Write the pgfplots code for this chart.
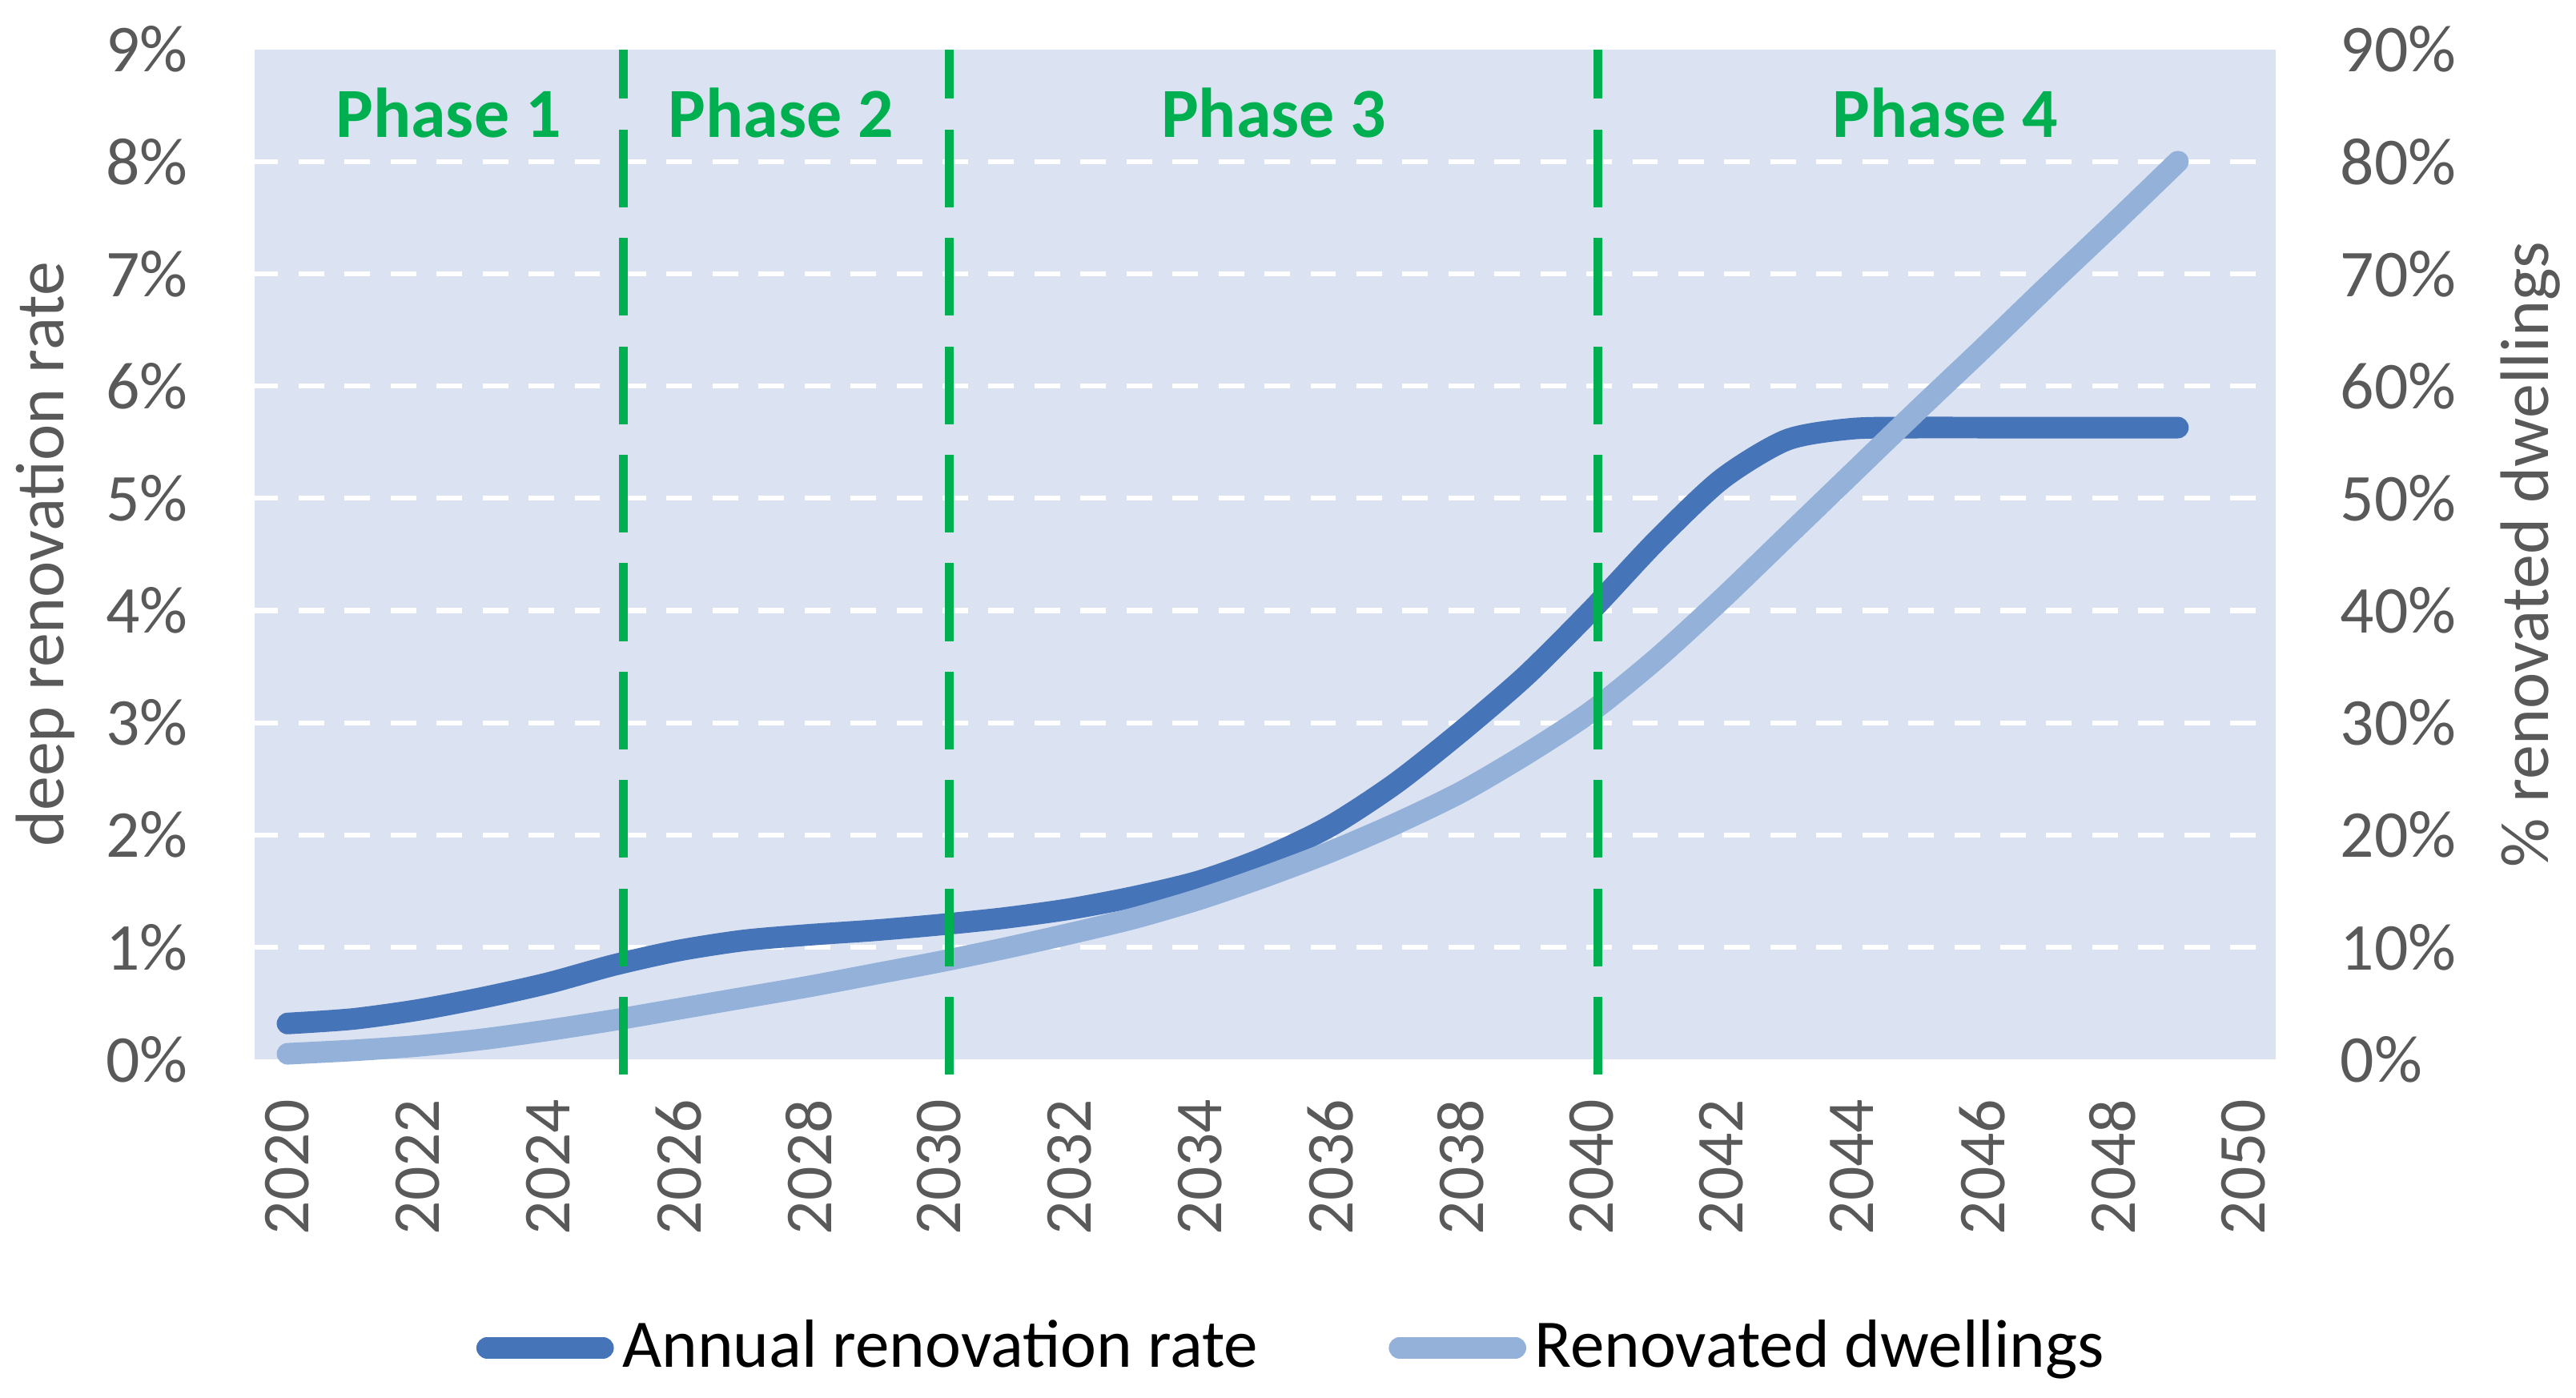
\documentclass[border=0pt]{standalone}
\usepackage{pgfplots}
\usepackage{pgfplotstable}
\pgfplotsset{compat=1.18}
\usepackage{fontspec}
\setmainfont{Carlito}
\definecolor{bgcol}{RGB}{219,227,242}
\definecolor{darkblue}{RGB}{70,116,184}
\definecolor{lightblue}{RGB}{148,178,217}
\definecolor{phasegreen}{RGB}{0,176,80}
\definecolor{ticktext}{RGB}{89,89,89}

\pgfplotstableread{
year rate
2020 0.32
2021 0.36
2022 0.44
2023 0.55
2024 0.68
2025 0.84
2026 0.97
2027 1.06
2028 1.11
2029 1.15
2030 1.20
2031 1.26
2032 1.34
2033 1.45
2034 1.59
2035 1.80
2036 2.08
2037 2.46
2038 2.92
2039 3.42
2040 4.00
2041 4.62
2042 5.17
2043 5.52
2044 5.62
2045 5.63
2046 5.63
2047 5.63
2048 5.63
2049 5.63
}\ratetable

\pgfplotstableread{
year dw
2020 0.5
2021 0.8
2022 1.2
2023 1.8
2024 2.6
2025 3.5
2026 4.5
2027 5.5
2028 6.5
2029 7.6
2030 8.7
2031 9.9
2032 11.2
2033 12.6
2034 14.3
2035 16.3
2036 18.5
2037 21.0
2038 23.8
2039 27.2
2040 31.0
2041 35.7
2042 41.0
2043 46.6
2044 52.2
2045 57.8
2046 63.3
2047 68.9
2048 74.4
2049 80.0
}\dwtable

\begin{document}
\begin{tikzpicture}
\pgfplotsset{
  common/.style={
    scale only axis, width=355.9pt, height=177.9pt,
    at={(0,0)}, anchor=south west,
    xmin=2019.5, xmax=2050.5,
    /pgf/number format/assume math mode=true,
    major tick length=0pt, minor tick length=0pt,
    tick style={draw=none},
    axis line style={draw=none},
    ticklabel style={font=\fontsize{11.8}{14}\selectfont, text=ticktext},
  }
}
\begin{axis}[common,
  axis background/.style={fill=bgcol},
  ymin=0, ymax=9, ytick={0,1,...,9},
  yticklabel={\pgfmathprintnumber{\tick}\%},
  yticklabel style={inner sep=0pt},
  yticklabel shift=11.6pt,
  extra y ticks={1,2,...,8},
  extra y tick labels={},
  extra y tick style={grid=major, major grid style={white, line width=0.85pt, dash pattern=on 4.5pt off 3.6pt, dash phase=0.4pt}},
  xtick={2020,2022,...,2050},
  xticklabel style={rotate=90, anchor=east, inner sep=0pt, /pgf/number format/1000 sep={}},
  xticklabel shift=6.8pt,
  ylabel={deep renovation rate},
  every axis y label/.style={at={(axis description cs:-0.1037,0.5)}, rotate=90, anchor=center, font=\fontsize{12.1}{14}\selectfont, text=ticktext},
]
\addplot[darkblue, line width=3.8pt, line cap=round, smooth, tension=0.45] table[x=year, y=rate] {\ratetable};
\end{axis}

\begin{axis}[common,
  clip=false,
  hide x axis,
  axis y line*=right,
  ymin=0, ymax=90, ytick={0,10,...,90},
  yticklabel={\pgfmathprintnumber{\tick}\%},
  yticklabel style={inner sep=0pt},
  yticklabel shift=11.2pt,
  ylabel={\% renovated dwellings},
  every axis y label/.style={at={(axis description cs:1.1262,0.5)}, rotate=90, anchor=center, font=\fontsize{12.1}{14}\selectfont, text=ticktext},
  legend style={at={(axis description cs:0.1096,-0.2856)}, anchor=west, draw=none, fill=none,
    inner sep=0pt, outer sep=0pt, legend columns=2,
    font=\fontsize{12}{14}\selectfont, text=black,
    nodes={inner sep=1.5pt},
    /tikz/every even column/.append style={column sep=21.5pt}},
  legend cell align=left,
  legend image code/.code={\draw[#1, line cap=round] (1.9pt,0pt) -- (22.3pt,0pt);},
]
\addlegendimage{darkblue, line width=3.8pt}
\addlegendentry{Annual renovation rate}
\addplot[lightblue, line width=3.8pt, line cap=round, smooth, tension=0.45] table[x=year, y=dw] {\dwtable};
\addlegendentry{Renovated dwellings}
\addplot[forget plot, phasegreen, line width=1.6pt, dash pattern=on 13.7pt off 5.4pt, dash phase=5pt] coordinates {(2025.15,90) (2025.15,-2)};
\addplot[forget plot, phasegreen, line width=1.6pt, dash pattern=on 13.7pt off 5.4pt, dash phase=5pt] coordinates {(2030.15,90) (2030.15,-2)};
\addplot[forget plot, phasegreen, line width=1.6pt, dash pattern=on 13.7pt off 5.4pt, dash phase=5pt] coordinates {(2040.1,90) (2040.1,-2)};
\node[anchor=base, text=phasegreen, font=\fontsize{12.4}{14}\selectfont\bfseries] at (axis cs:2022.47,82.2) {Phase 1};
\node[anchor=base, text=phasegreen, font=\fontsize{12.4}{14}\selectfont\bfseries] at (axis cs:2027.57,82.2) {Phase 2};
\node[anchor=base, text=phasegreen, font=\fontsize{12.4}{14}\selectfont\bfseries] at (axis cs:2035.13,82.2) {Phase 3};
\node[anchor=base, text=phasegreen, font=\fontsize{12.4}{14}\selectfont\bfseries] at (axis cs:2045.43,82.2) {Phase 4};
\end{axis}
\pgfresetboundingbox
\path[use as bounding box] (-44.9pt,-59.5pt) rectangle (408.8pt,186.6pt);
\end{tikzpicture}
\end{document}
